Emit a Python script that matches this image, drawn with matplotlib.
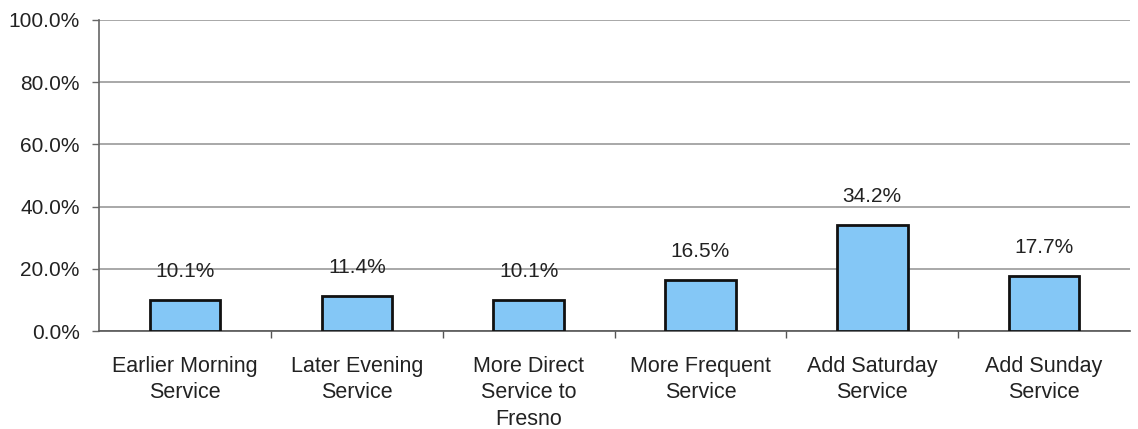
import matplotlib
matplotlib.use("Agg")
import matplotlib.pyplot as plt
import numpy as np
from matplotlib.ticker import FixedLocator, FuncFormatter

categories = ["Earlier Morning\nService", "Later Evening\nService",
              "More Direct\nService to\nFresno", "More Frequent\nService",
              "Add Saturday\nService", "Add Sunday\nService"]
percents = [10.1, 11.4, 10.1, 16.5, 34.2, 17.7]

plt.rcParams['font.family'] = ['Liberation Sans', 'DejaVu Sans']

fig = plt.figure(figsize=(11.38, 4.29), dpi=100)
ax = fig.add_axes([0.087, 0.2284, 0.906, 0.725])

x = np.arange(len(categories))
ax.bar(x, percents, width=0.41, color='#84c7f6', edgecolor='#111111',
       linewidth=2, zorder=3)
for xi, p in zip(x, percents):
    ax.text(xi, p + 6, f"{p:.1f}%", ha='center', va='bottom',
            fontsize=15, color='#222222')

ax.set_xlim(-0.5, len(categories) - 0.5)
ax.set_ylim(0, 100)
ax.set_yticks(np.arange(0, 101, 20))
ax.yaxis.set_major_formatter(FuncFormatter(lambda v, _: f"{v:.1f}%"))
ax.yaxis.grid(True, color='#9a9a9a', linewidth=1.2, zorder=0)

ax.set_xticks(x)
ax.set_xticklabels(categories, fontsize=15.5, color='#222222', linespacing=1.33)
ax.tick_params(axis='x', which='major', length=0, pad=18)
ax.xaxis.set_minor_locator(FixedLocator(np.arange(0.5, len(categories) - 1, 1.0)))
ax.tick_params(axis='x', which='minor', length=5, width=1, color='#555555')
ax.tick_params(axis='y', labelsize=15, labelcolor='#222222', length=5,
               width=1, color='#666666', pad=9)

for side in ['top', 'right']:
    ax.spines[side].set_visible(False)
ax.spines['left'].set_color('#666666')
ax.spines['left'].set_linewidth(1.2)
ax.spines['bottom'].set_color('#555555')
ax.spines['bottom'].set_linewidth(1.2)

fig.savefig("out.png", dpi=100)
